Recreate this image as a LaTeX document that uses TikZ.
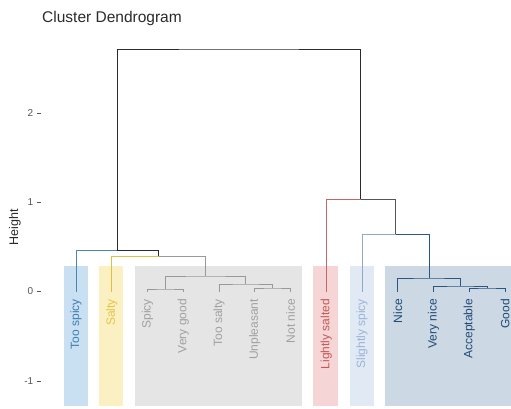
\documentclass[tikz,border=0pt]{standalone}
\usepackage{fontspec}
\setmainfont{Liberation Sans}
\definecolor{kcol}{HTML}{2B2B2B}
\definecolor{tsbox}{HTML}{C9E0F2}\definecolor{tstext}{HTML}{3F7DB3}\definecolor{tsline}{HTML}{4A86B5}
\definecolor{sabox}{HTML}{FBF0C2}\definecolor{satext}{HTML}{E6C34A}\definecolor{saline}{HTML}{E0C040}
\definecolor{grbox}{HTML}{E5E5E5}\definecolor{grtext}{HTML}{A0A0A0}\definecolor{grline}{HTML}{999999}
\definecolor{lsbox}{HTML}{F5D5D5}\definecolor{lstext}{HTML}{C45858}\definecolor{lsline}{HTML}{C06868}
\definecolor{ssbox}{HTML}{E1E9F5}\definecolor{sstext}{HTML}{9BB3D4}\definecolor{ssline}{HTML}{8FA9C6}
\definecolor{blbox}{HTML}{CCD8E3}\definecolor{bltext}{HTML}{1F4A75}\definecolor{blline}{HTML}{2A5680}
\definecolor{axcol}{HTML}{555555}
\begin{document}
\begin{tikzpicture}[x=1pt,y=-1pt,
  branch/.style={line width=0.9pt},
  leaflabel/.style={rotate=90,anchor=east,inner sep=0pt,font=\fontsize{12}{14}\selectfont},
  ticklabel/.style={anchor=east,inner sep=0pt,font=\fontsize{10}{11}\selectfont,text=axcol},
  tickmark/.style={draw=axcol,line width=0.6pt}]
\useasboundingbox (0,0) rectangle (511,408);
\fill[white] (0,0) rectangle (511,408);
% cluster boxes
\fill[tsbox] (64,266) rectangle (88,406);
\fill[sabox] (99,266) rectangle (123,406);
\fill[grbox] (135,266) rectangle (302,406);
\fill[lsbox] (313,266) rectangle (338,406);
\fill[ssbox] (350,266) rectangle (374,406);
\fill[blbox] (385,266) rectangle (511,406);
% title and axis
\node[anchor=base west,inner sep=0pt,font=\fontsize{15.5}{18}\selectfont,text=kcol] (title) at (42,22.7) {Cluster Dendrogram};
\node[rotate=90,inner sep=0pt,font=\fontsize{12.5}{14}\selectfont,text=kcol] (ylab) at (15,227.5) {Height};
\node[ticklabel] (t2) at (33.5,112.9) {2};
\node[ticklabel] (t1) at (33.5,202.2) {1};
\node[ticklabel] (t0) at (33.5,291.5) {0};
\node[ticklabel] (tm1) at (33.5,380.8) {-1};
\foreach \yy in {112.9,202.2,291.5,380.8} \draw[tickmark] (36.5,\yy) -- (40.5,\yy);
% leaves
\coordinate (L1) at (76,291.5);
\coordinate (L2) at (111.75,291.5);
\coordinate (L3) at (147.5,291.5);
\coordinate (L4) at (183.25,291.5);
\coordinate (L5) at (219,291.5);
\coordinate (L6) at (254.75,291.5);
\coordinate (L7) at (290.5,291.5);
\coordinate (L8) at (326.25,291.5);
\coordinate (L9) at (362,291.5);
\coordinate (L10) at (397.75,291.5);
\coordinate (L11) at (433.5,291.5);
\coordinate (L12) at (469.25,291.5);
\coordinate (L13) at (505,291.5);
% merges
\coordinate (mSV) at (165.4,289);
\coordinate (mUN) at (272.6,288);
\coordinate (mT) at (245.8,284);
\coordinate (mG) at (205.6,276);
\coordinate (mS) at (158.7,256);
\coordinate (mL) at (117.3,250);
\coordinate (mAG) at (487.1,288);
\coordinate (mVA) at (460.3,286);
\coordinate (mN) at (429,278);
\coordinate (mB) at (395.5,234);
\coordinate (mR) at (360.9,199);
\coordinate (root) at (239.1,49);
% labels
\node[leaflabel,text=tstext] (n1) at (76,299) {Too spicy};
\node[leaflabel,text=satext] (n2) at (111.75,299) {Salty};
\node[leaflabel,text=grtext] (n3) at (147.5,299) {Spicy};
\node[leaflabel,text=grtext] (n4) at (183.25,299) {Very good};
\node[leaflabel,text=grtext] (n5) at (219,299) {Too salty};
\node[leaflabel,text=grtext] (n6) at (254.75,299) {Unpleasant};
\node[leaflabel,text=grtext] (n7) at (290.5,299) {Not nice};
\node[leaflabel,text=lstext] (n8) at (326.25,299) {Lightly salted};
\node[leaflabel,text=sstext] (n9) at (362,299) {Slightly spicy};
\node[leaflabel,text=bltext] (n10) at (397.75,299) {Nice};
\node[leaflabel,text=bltext] (n11) at (433.5,299) {Very nice};
\node[leaflabel,text=bltext] (n12) at (469.25,299) {Acceptable};
\node[leaflabel,text=bltext] (n13) at (505,299) {Good};
% gray cluster
\draw[branch,grline] (L3) |- (mSV) -| (L4);
\draw[branch,grline] (L6) |- (mUN) -| (L7);
\draw[branch,grline] (L5) |- (mT) -| (mUN);
\draw[branch,grline] (mSV) |- (mG) -| (mT);
\draw[branch,grline] (mG) |- (mS);
\draw[branch,saline] (L2) |- (mS);
\draw[branch,kcol] (mS) |- (mL);
\draw[branch,tsline] (L1) |- (mL);
% root
\draw[branch,kcol] (mL) |- (root) -| (mR);
% right part
\draw[branch,lsline] (L8) |- (mR);
\draw[branch,kcol!80] (mB) |- (mR);
\draw[branch,ssline] (L9) |- (mB);
\draw[branch,blline] (mN) |- (mB);
\draw[branch,blline] (L10) |- (mN) -| (mVA);
\draw[branch,blline] (L11) |- (mVA) -| (mAG);
\draw[branch,blline] (L12) |- (mAG) -| (L13);
\end{tikzpicture}
\end{document}
